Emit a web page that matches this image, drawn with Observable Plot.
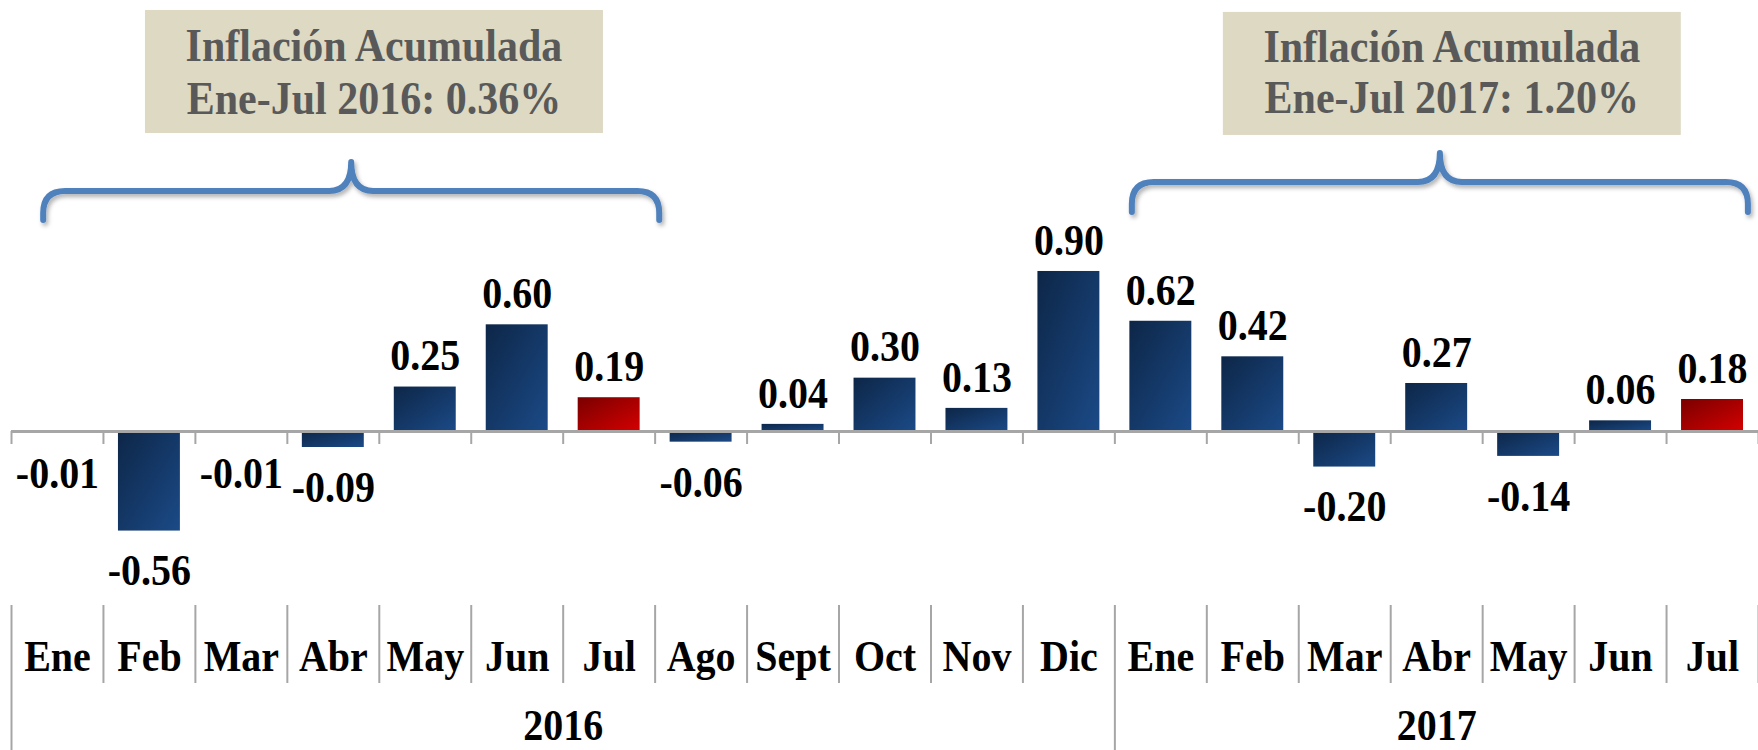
<!DOCTYPE html>
<html><head><meta charset="utf-8">
<script src="https://cdn.jsdelivr.net/npm/d3@7"></script>
<script src="https://cdn.jsdelivr.net/npm/@observablehq/plot@0.6"></script>
<style>
html,body{margin:0;padding:0;background:#fff;}
#chart svg{display:block;}
</style></head>
<body><div id="chart"></div>
<script>
// ---- data ----
const months = ["Ene","Feb","Mar","Abr","May","Jun","Jul","Ago","Sept","Oct","Nov","Dic","Ene","Feb","Mar","Abr","May","Jun","Jul"];
const values = [-0.01,-0.56,-0.01,-0.09,0.25,0.60,0.19,-0.06,0.04,0.30,0.13,0.90,0.62,0.42,-0.20,0.27,-0.14,0.06,0.18];
const highlighted = [6, 18];            // Jul 2016, Jul 2017
const yearLabels = ["2016","2017"];
const yearStart = [0, 12];
const yearEnd = [12, 19];
const annoTitles = ["Inflación Acumulada","Inflación Acumulada"];
const annoValues = ["Ene-Jul 2016: 0.36%","Ene-Jul 2017: 1.20%"];
const annoFrom = [0, 12];
const annoTo = [7, 19];

// ---- tables ----
const data = values.map((v, i) => ({i, month: months[i], value: v, hi: highlighted.includes(i)}));
const yearData = yearLabels.map((y, k) => ({year: y, start: yearStart[k], end: yearEnd[k]}));
const bounds = d3.range(0, months.length + 1);
const minorBounds = bounds.filter(b => !yearStart.includes(b));

// ---- layout ----
const W = 1758, H = 750;
const yDomain = [-0.9786, 2.424];
const font = "'Liberation Serif','Times New Roman',serif";
const textStretch = 1.12;
// annotation placement (scale units)
const annoLayout = [
  {bL: 0.35, bR: 7.05, bEnd: 1.187, bBar: 1.35, bPeak: 1.513, bx1: 1.457, bx2: 6.438, by1: 2.368, by2: 1.676, l1: 2.165, l2: 1.868},
  {bL: 12.19, bR: 18.89, bEnd: 1.232, bBar: 1.40, bPeak: 1.563, bx1: 13.18, bx2: 18.16, by1: 2.357, by2: 1.665, l1: 2.158, l2: 1.876}
];

function defsMark() {
  return () => {
    const defs = d3.create("svg:defs");
    const g1 = defs.append("linearGradient").attr("id","gradBlue").attr("x1",0).attr("y1",0).attr("x2",1).attr("y2",1);
    g1.append("stop").attr("offset","0%").attr("stop-color","#0d2647");
    g1.append("stop").attr("offset","100%").attr("stop-color","#1b4a87");
    const g2 = defs.append("linearGradient").attr("id","gradRed").attr("x1",0).attr("y1",0).attr("x2",1).attr("y2",1);
    g2.append("stop").attr("offset","0%").attr("stop-color","#7a0000");
    g2.append("stop").attr("offset","100%").attr("stop-color","#d40000");
    const f = defs.append("filter").attr("id","braceShadow").attr("x","-5%").attr("y","-30%").attr("width","110%").attr("height","160%");
    f.append("feDropShadow").attr("dx",2).attr("dy",3).attr("stdDeviation",2).attr("flood-color","#000").attr("flood-opacity",0.3);
    return defs.node();
  };
}

function annotationMark() {
  return (index, scales) => {
    const {x, y} = scales;
    const g = d3.create("svg:g");
    annoLayout.forEach((a, k) => {
      const xL = x(a.bL), xR = x(a.bR), xM = (xL + xR) / 2;
      const yE = y(a.bEnd), yH = y(a.bBar), yP = y(a.bPeak);
      const rc = 22;
      const d = `M${xL},${yE} L${xL},${yH + rc} Q${xL},${yH} ${xL + rc},${yH} L${xM - rc},${yH} Q${xM},${yH} ${xM},${yP} Q${xM},${yH} ${xM + rc},${yH} L${xR - rc},${yH} Q${xR},${yH} ${xR},${yH + rc} L${xR},${yE}`;
      g.append("path").attr("d", d).attr("fill","none").attr("stroke","#4f81bd")
        .attr("stroke-width",6).attr("stroke-linecap","round").attr("stroke-linejoin","round")
        .attr("filter","url(#braceShadow)");
      const bx1 = x(a.bx1), bx2 = x(a.bx2), by1 = y(a.by1), by2 = y(a.by2);
      g.append("rect").attr("x", bx1).attr("y", by1).attr("width", bx2 - bx1).attr("height", by2 - by1).attr("fill","#ddd9c3");
      const cx = (bx1 + bx2) / 2;
      [[annoTitles[k], a.l1], [annoValues[k], a.l2]].forEach(([t, ly]) => {
        g.append("text").attr("transform", `translate(${cx},${y(ly)})`).attr("dy","0.32em")
          .attr("text-anchor","middle").attr("font-family", font).attr("font-weight","bold")
          .attr("font-size", 42).attr("fill","#595959").text(t);
      });
    });
    return g.node();
  };
}

const plot = Plot.plot({
  width: W, height: H,
  marginLeft: 11, marginRight: 0, marginTop: 0, marginBottom: 145,
  x: {type: "linear", domain: [0, months.length], axis: null},
  y: {domain: yDomain, axis: null},
  style: {fontFamily: font, background: "white", overflow: "visible"},
  marks: [
    defsMark(),
    Plot.rectY(data.filter(d => !d.hi), {x1: "i", x2: d => d.i + 1, y: "value", insetLeft: 15, insetRight: 15, fill: "url(#gradBlue)"}),
    Plot.rectY(data.filter(d => d.hi), {x1: "i", x2: d => d.i + 1, y: "value", insetLeft: 15, insetRight: 15, fill: "url(#gradRed)"}),
    Plot.ruleY([0], {stroke: "#a6a6a6", strokeWidth: 3}),
    Plot.ruleX(bounds, {x: d => d, y1: 0, y2: 0, insetBottom: -13, stroke: "#a6a6a6", strokeWidth: 2}),
    Plot.text(data.filter(d => d.value >= 0), {x: d => d.i + 0.5, y: "value", text: d => d.value.toFixed(2), dy: -31, fontSize: 40, fontWeight: "bold", fill: "#000"}),
    Plot.text(data.filter(d => d.value < 0), {x: d => d.i + 0.5, y: "value", text: d => d.value.toFixed(2), dy: 40, fontSize: 40, fontWeight: "bold", fill: "#000"}),
    // bottom categorical axis
    Plot.ruleX(minorBounds, {x: d => d, y1: yDomain[0], y2: yDomain[0], insetBottom: -78, stroke: "#a6a6a6", strokeWidth: 2}),
    Plot.ruleX(yearStart, {x: d => d, y1: yDomain[0], y2: yDomain[0], insetBottom: -150, stroke: "#a6a6a6", strokeWidth: 2}),
    Plot.text(data, {x: d => d.i + 0.5, frameAnchor: "bottom", lineAnchor: "middle", dy: 51, text: "month", fontSize: 40, fontWeight: "bold", fill: "#000"}),
    Plot.text(yearData, {x: d => (d.start + d.end) / 2, frameAnchor: "bottom", lineAnchor: "middle", dy: 120, text: "year", fontSize: 40, fontWeight: "bold", fill: "#000"}),
    annotationMark()
  ]
});
// the original's serif glyphs are slightly taller than wide: stretch every label vertically about its anchor
d3.select(plot).selectAll("text").each(function () {
  const t = this.getAttribute("transform") || "";
  this.setAttribute("transform", `${t} scale(1,${textStretch})`);
});
document.getElementById("chart").appendChild(plot);
</script>
</body></html>
